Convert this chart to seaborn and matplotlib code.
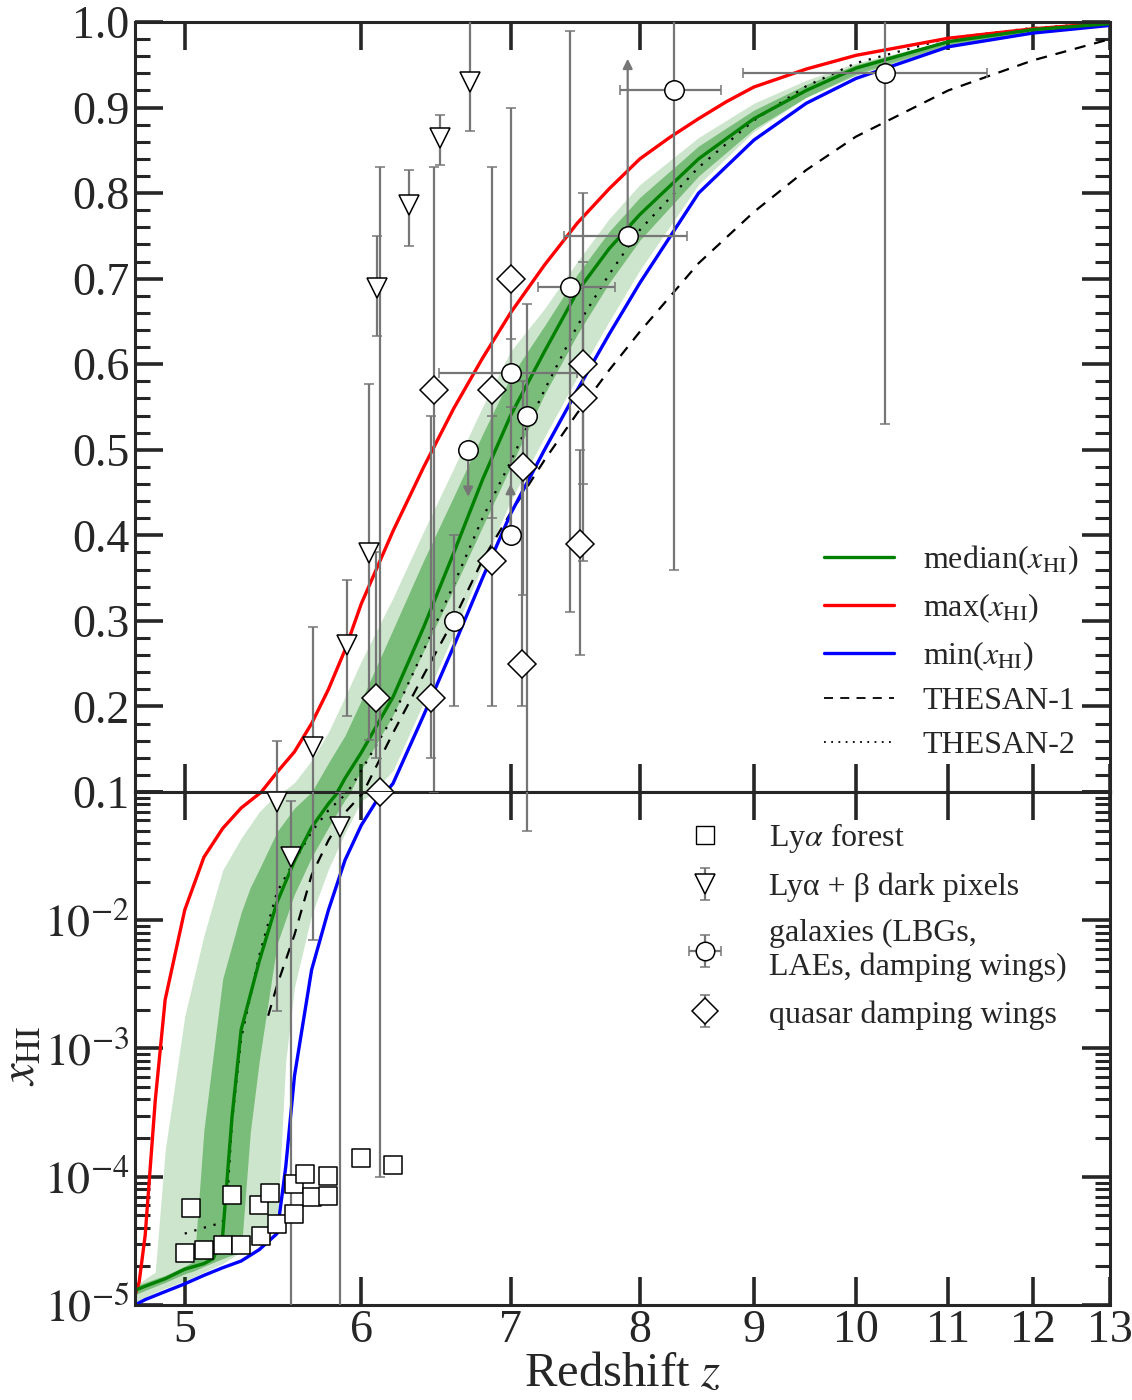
import seaborn as sns
import matplotlib.pyplot as plt
import matplotlib.ticker as mticker
from matplotlib.lines import Line2D
import numpy as np

# Datos: fraccion neutra x_HI frente al redshift z

# mediana (verde)
med_z = [4.75, 4.8, 4.9, 5.0, 5.1, 5.15, 5.2, 5.25, 5.3, 5.4, 5.5, 5.6, 5.7, 5.8, 5.9, 6.0,
         6.2, 6.4, 6.6, 6.8, 7.0, 7.25, 7.5, 7.75, 8.0, 8.5, 9.0, 9.5, 10, 11, 12, 13]
med_x = [1.3e-5, 1.4e-5, 1.6e-5, 1.9e-5, 2.1e-5, 2.3e-5, 3.5e-5, 2.9e-4, 1.4e-3, 4.8e-3, 0.0138,
         0.029, 0.053, 0.081, 0.116, 0.146, 0.211, 0.293, 0.379, 0.465, 0.54, 0.615, 0.685,
         0.735, 0.775, 0.84, 0.887, 0.92, 0.946, 0.977, 0.991, 0.998]

# maximo (rojo)
max_z = [4.75, 4.77, 4.8, 4.85, 4.9, 5.0, 5.1, 5.2, 5.3, 5.4, 5.5, 5.6, 5.7, 5.8, 5.9, 6.0,
         6.2, 6.4, 6.6, 6.8, 7.0, 7.25, 7.5, 7.75, 8.0, 8.25, 8.5, 8.75, 9.0, 9.5, 10, 11, 12, 13]
max_x = [1.2e-5, 1.5e-5, 3.5e-5, 3.9e-4, 2.4e-3, 0.012, 0.031, 0.052, 0.075, 0.097, 0.123,
         0.147, 0.18, 0.22, 0.266, 0.32, 0.405, 0.48, 0.548, 0.607, 0.66, 0.716, 0.765,
         0.805, 0.84, 0.865, 0.887, 0.907, 0.924, 0.945, 0.961, 0.981, 0.992, 0.999]

# minimo (azul)
min_z = [4.75, 4.8, 4.9, 5.0, 5.1, 5.2, 5.3, 5.4, 5.5, 5.55, 5.6, 5.7, 5.8, 5.9, 6.0, 6.1,
         6.2, 6.4, 6.6, 6.8, 7.0, 7.25, 7.5, 7.75, 8.0, 8.5, 9.0, 9.5, 10, 11, 12, 13]
min_x = [1.0e-5, 1.1e-5, 1.27e-5, 1.46e-5, 1.7e-5, 1.95e-5, 2.2e-5, 2.7e-5, 3.6e-5, 1.2e-4,
         6.1e-4, 4.1e-3, 0.012, 0.0294, 0.055, 0.087, 0.11, 0.19, 0.27, 0.35, 0.425, 0.50,
         0.57, 0.635, 0.695, 0.80, 0.862, 0.905, 0.934, 0.971, 0.987, 0.996]

# banda clara (95%)
band95_z = [4.75, 4.8, 4.85, 4.9, 5.0, 5.1, 5.2, 5.3, 5.4, 5.5, 5.55, 5.6, 5.7, 5.8, 5.9, 6.0,
            6.2, 6.4, 6.6, 6.8, 7.0, 7.25, 7.5, 7.75, 8.0, 8.5, 9.0, 9.5, 10, 11, 12, 13]
band95_hi = [1.4e-5, 1.6e-5, 1.8e-5, 1.6e-4, 1.78e-3, 7.6e-3, 0.0246, 0.0437, 0.07, 0.097,
             0.103, 0.111, 0.137, 0.17, 0.211, 0.253, 0.327, 0.405, 0.478, 0.55, 0.615,
             0.665, 0.72, 0.77, 0.81, 0.865, 0.905, 0.932, 0.952, 0.978, 0.991, 0.998]
band95_lo = [1.05e-5, 1.15e-5, 1.25e-5, 1.35e-5, 1.54e-5, 1.8e-5, 2.1e-5, 2.6e-5, 3.2e-5,
             3.9e-5, 8e-4, 3e-3, 0.011, 0.025, 0.048, 0.085, 0.125, 0.205, 0.285, 0.365,
             0.44, 0.515, 0.585, 0.65, 0.71, 0.81, 0.872, 0.912, 0.94, 0.974, 0.989, 0.997]

# banda oscura (68%)
band68_z = [4.75, 4.8, 4.9, 5.0, 5.05, 5.1, 5.2, 5.3, 5.35, 5.4, 5.5, 5.6, 5.7, 5.8, 5.9, 6.0,
            6.2, 6.4, 6.6, 6.8, 7.0, 7.25, 7.5, 7.75, 8.0, 8.5, 9.0, 9.5, 10, 11, 12, 13]
band68_hi = [1.4e-5, 1.5e-5, 1.7e-5, 2.0e-5, 2.2e-5, 2.3e-4, 3.5e-3, 0.0115, 0.018, 0.025,
             0.049, 0.075, 0.10, 0.134, 0.166, 0.207, 0.29, 0.371, 0.445, 0.518, 0.585,
             0.645, 0.705, 0.755, 0.795, 0.855, 0.897, 0.927, 0.95, 0.979, 0.992, 0.998]
band68_lo = [1.2e-5, 1.3e-5, 1.5e-5, 1.75e-5, 1.85e-5, 2.0e-5, 2.3e-5, 2.6e-5, 2.2e-4, 8e-4,
             6.5e-3, 0.016, 0.031, 0.053, 0.087, 0.126, 0.19, 0.265, 0.337, 0.41, 0.48,
             0.565, 0.635, 0.695, 0.745, 0.82, 0.875, 0.912, 0.938, 0.973, 0.989, 0.997]

# THESAN-1 (discontinua)
t1_z = [5.45, 5.5, 5.6, 5.7, 5.8, 5.9, 6.0, 6.2, 6.4, 6.6, 6.8, 7.0, 7.25, 7.5, 7.75, 8.0,
        8.5, 9.0, 9.5, 10, 11, 12, 13]
t1_x = [1.8e-3, 3.1e-3, 7.7e-3, 0.0225, 0.042, 0.069, 0.095, 0.169, 0.237, 0.301, 0.371,
        0.426, 0.488, 0.543, 0.593, 0.638, 0.718, 0.778, 0.827, 0.866, 0.92, 0.955, 0.98]

# THESAN-2 (punteada)
t2_z = [5.0, 5.1, 5.2, 5.23, 5.25, 5.3, 5.4, 5.5, 5.6, 5.7, 5.8, 5.9, 6.0, 6.2, 6.4, 6.6,
        6.8, 7.0, 7.25, 7.5, 7.75, 8.0, 8.5, 9.0, 9.5, 10, 11, 12, 13]
t2_x = [3.6e-5, 4.0e-5, 4.4e-5, 9e-5, 2.7e-4, 1.2e-3, 5.3e-3, 0.0166, 0.029, 0.049, 0.072,
        0.095, 0.125, 0.188, 0.266, 0.342, 0.42, 0.486, 0.57, 0.645, 0.705, 0.757, 0.83,
        0.885, 0.925, 0.952, 0.981, 0.993, 0.999]

# Lya forest (cuadrados)
sq_z = [5.03, 5.0, 5.10, 5.20, 5.25, 5.30, 5.41, 5.40, 5.46, 5.50, 5.60, 5.60, 5.66, 5.70,
        5.80, 5.80, 6.0, 6.2]
sq_x = [5.7e-5, 2.55e-5, 2.7e-5, 2.94e-5, 7.2e-5, 2.94e-5, 3.46e-5, 6.0e-5, 7.4e-5, 4.3e-5,
        8.8e-5, 5.1e-5, 1.05e-4, 7.0e-5, 1.02e-4, 7.1e-5, 1.4e-4, 1.24e-4]

# Lya+beta dark pixels (triangulos)
tri_z = [6.71, 6.51, 6.30, 6.10, 6.05, 5.91, 5.71, 5.50, 5.58, 5.87]
tri_x = [0.93, 0.864, 0.786, 0.689, 0.379, 0.272, 0.153, 0.0835, 0.031, 0.053]
tri_lo = [0.873, 0.833, 0.738, 0.633, 0.161, 0.189, 0.007, 0.00195, 1e-6, 1e-6]
tri_hi = [1.05, 0.891, 0.827, 0.750, 0.577, 0.348, 0.293, 0.16, 0.085, 0.10]

# galaxias (circulos)
circ_z = [10.3, 8.29, 7.90, 7.44, 7.0, 7.0, 6.70, 6.60, 7.12]
circ_x = [0.94, 0.92, 0.75, 0.69, 0.59, 0.40, 0.50, 0.30, 0.54]
circ_zlo = [8.9, 7.84, 7.40, 7.2, 6.5, 7.0, 6.70, 6.60, 7.12]
circ_zhi = [11.45, 8.70, 8.40, 7.8, 7.5, 7.0, 6.70, 6.60, 7.12]
circ_lo = [0.53, 0.36, 0.75, 0.31, 0.55, 0.40, 0.50, 0.20, 0.05]
circ_hi = [1.05, 1.05, 0.75, 0.99, 0.63, 0.40, 0.50, 0.40, 0.67]

# limites (flechas)
lim_z = [7.90, 7.0, 6.70]
lim_x = [0.75, 0.40, 0.50]
lim_end = [0.957, 0.46, 0.445]

# quasar damping wings (rombos)
dia_z = [6.09, 6.12, 6.47, 6.45, 6.87, 6.87, 7.0, 7.08, 7.09, 7.54, 7.54, 7.52]
dia_x = [0.21, 0.10, 0.57, 0.21, 0.57, 0.37, 0.70, 0.25, 0.48, 0.60, 0.56, 0.39]
dia_lo = [0.14, 1.0e-4, 0.10, 0.14, 0.42, 0.20, 0.41, 0.20, 0.33, 0.46, 0.37, 0.26]
dia_hi = [0.38, 0.83, 0.83, 0.54, 0.83, 0.54, 0.90, 0.49, 0.58, 0.80, 0.72, 0.50]

z_ticks = [5, 6, 7, 8, 9, 10, 11, 12, 13]

sns.set_style("ticks")
plt.rcParams['font.family'] = ['Liberation Serif', 'DejaVu Serif']
plt.rcParams['mathtext.fontset'] = 'stix'

fig = plt.figure(figsize=(11.32, 14), dpi=100)
ax_hi = fig.add_axes([0.1193, 0.4343, 0.8613, 0.55])
ax_lo = fig.add_axes([0.1193, 0.0679, 0.8613, 0.3664])

ecol = '#767676'

def err(v, lo, hi):
    v = np.array(v)
    return [v - np.array(lo), np.array(hi) - v]

for ax in (ax_hi, ax_lo):
    ax.set_xscale('log')
    ax.fill_between(band95_z, band95_lo, band95_hi, color='green', alpha=0.2, lw=0)
    ax.fill_between(band68_z, band68_lo, band68_hi, color='green', alpha=0.4, lw=0)
    sns.lineplot(x=t1_z, y=t1_x, ax=ax, color='black', lw=1.6, dashes=(5, 4),
                 estimator=None, sort=False)
    sns.lineplot(x=t2_z, y=t2_x, ax=ax, color='black', lw=1.6, linestyle=(0, (1, 3.5)),
                 estimator=None, sort=False)
    sns.lineplot(x=max_z, y=max_x, ax=ax, color='#ff0000', lw=2.4, estimator=None, sort=False)
    sns.lineplot(x=min_z, y=min_x, ax=ax, color='#0000ff', lw=2.4, estimator=None, sort=False)
    sns.lineplot(x=med_z, y=med_x, ax=ax, color='#008000', lw=2.4, estimator=None, sort=False)

    kw = dict(ecolor=ecol, elinewidth=1.6, capsize=3.5, capthick=1.2, mfc='white',
              mec='black', mew=1.1, ls='none', zorder=6)
    h_tri = ax.errorbar(tri_z, tri_x, yerr=err(tri_x, tri_lo, tri_hi), fmt='v', ms=15, **kw)
    h_circ = ax.errorbar(circ_z, circ_x, yerr=err(circ_x, circ_lo, circ_hi),
                         xerr=err(circ_z, circ_zlo, circ_zhi), fmt='o', ms=14, **kw)
    h_dia = ax.errorbar(dia_z, dia_x, yerr=err(dia_x, dia_lo, dia_hi), fmt='D', ms=14, **kw)
    ax.scatter(sq_z, sq_x, marker='s', s=175, facecolor='white', edgecolor='black',
               linewidth=1.1, zorder=7)

    ax.set_xlim(4.75, 13)
    ax.xaxis.set_major_locator(mticker.FixedLocator(z_ticks))
    ax.xaxis.set_minor_locator(mticker.NullLocator())
    ax.tick_params(which='both', direction='in', top=True, right=True, labelsize=33)
    ax.tick_params(which='major', length=20, width=2.6)
    ax.tick_params(which='minor', length=11, width=2.2)
    ax.tick_params(axis='y', pad=4)
    ax.set_ylabel('')
    for s in ax.spines.values():
        s.set_linewidth(2.2)

for zz, v0, v1 in zip(lim_z, lim_x, lim_end):
    ax_hi.annotate('', xy=(zz, v1), xytext=(zz, v0), zorder=5,
                   arrowprops=dict(arrowstyle='-|>', color=ecol, lw=1.6,
                                   shrinkA=0, shrinkB=0, mutation_scale=14))

# panel superior: lineal
ax_hi.set_ylim(0.1, 1.0)
ax_hi.yaxis.set_major_locator(mticker.MultipleLocator(0.1))
ax_hi.yaxis.set_minor_locator(mticker.MultipleLocator(0.02))
ax_hi.yaxis.set_major_formatter(mticker.FormatStrFormatter('%.1f'))
ax_hi.tick_params(labelbottom=False)

# panel inferior: logaritmico
ax_lo.set_yscale('log')
ax_lo.set_ylim(1e-5, 0.1)
ax_lo.set_yticks([1e-5, 1e-4, 1e-3, 1e-2, 1e-1])
ax_lo.set_yticklabels([r'$10^{-5}$', r'$10^{-4}$', r'$10^{-3}$', r'$10^{-2}$', ''])
ax_lo.yaxis.set_minor_locator(mticker.LogLocator(base=10, subs=np.arange(2, 10)))
ax_lo.yaxis.set_minor_formatter(mticker.NullFormatter())
ax_lo.set_xticklabels([str(t) for t in z_ticks])
ax_lo.tick_params(axis='x', pad=3)
ax_lo.set_xlabel(r'Redshift $z$', fontsize=35, labelpad=0)
fig.text(0.0195, 0.246, r'$x_{\rm HI}$', rotation=90, ha='center', va='center', fontsize=35)

# leyenda de curvas
line_handles = [Line2D([], [], color='#008000', lw=2.4),
                Line2D([], [], color='#ff0000', lw=2.4),
                Line2D([], [], color='#0000ff', lw=2.4),
                Line2D([], [], color='black', lw=1.3, dashes=(5, 4)),
                Line2D([], [], color='black', lw=1.3, linestyle=(0, (1, 3)))]
line_labels = [r'median($x_{\rm HI}$)', r'max($x_{\rm HI}$)', r'min($x_{\rm HI}$)',
               'THESAN-1', 'THESAN-2']
ax_hi.legend(line_handles, line_labels, loc='lower right', bbox_to_anchor=(1.0, 0.0),
             frameon=False, fontsize=23, handlelength=2.2, handletextpad=0.9,
             labelspacing=0.45, borderaxespad=0.6)

# leyenda de observaciones
sq_handle = Line2D([], [], marker='s', ms=13, mfc='white', mec='black', mew=1.0, ls='none')
obs_labels = [r'Ly$\alpha$ forest', 'Ly\u03b1 + \u03b2 dark pixels',
              'galaxies (LBGs,\nLAEs, damping wings)', 'quasar damping wings']
ax_lo.legend([sq_handle, h_tri, h_circ, h_dia], obs_labels, loc='upper right',
             bbox_to_anchor=(0.985, 1.0), frameon=False, fontsize=23,
             handlelength=1.4, handletextpad=1.3, labelspacing=0.55,
             borderaxespad=0.5, markerscale=0.95)

fig.savefig('out.png', dpi=100)
